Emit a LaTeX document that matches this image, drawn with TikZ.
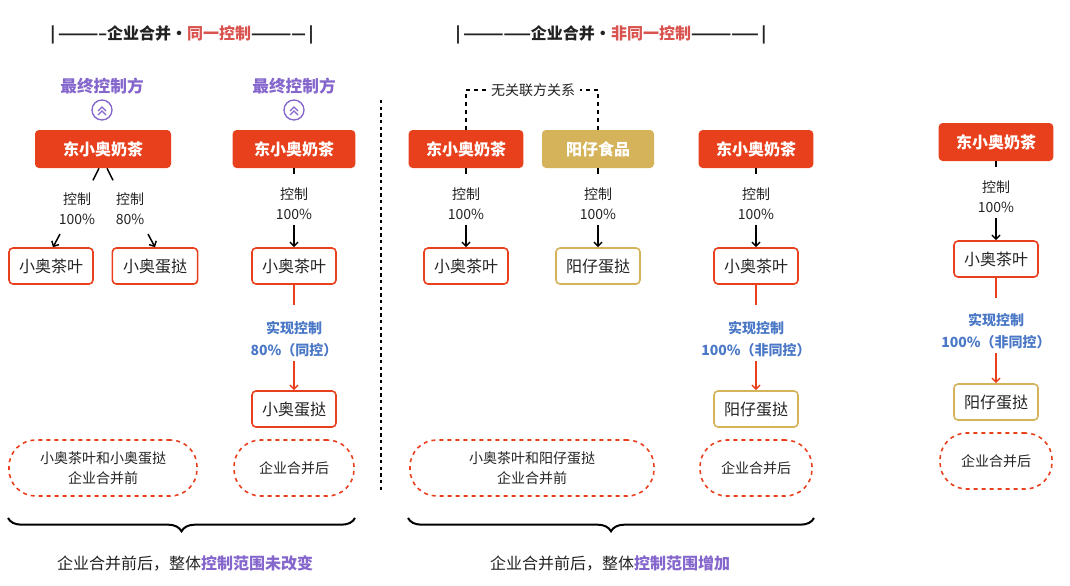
\documentclass[tikz,border=0pt]{standalone}
\usepackage{fontspec}
\setmainfont{Noto Sans CJK SC}
\usetikzlibrary{decorations.pathreplacing,arrows.meta}
\definecolor{org}{HTML}{E8401C}
\definecolor{gold}{HTML}{D4B35A}
\definecolor{pur}{HTML}{8466CC}
\definecolor{blu}{HTML}{4A78C6}
\definecolor{ttl}{HTML}{D9534F}
\definecolor{txt}{HTML}{222222}
\begin{document}
\begin{tikzpicture}[x=0.75pt,y=-0.75pt,
  top/.style={rounded corners=3pt,fill=org,text=white,font=\bfseries\fontsize{12}{14}\selectfont,minimum height=28.5pt,inner sep=0pt},
  topg/.style={top,fill=gold},
  sub/.style={rounded corners=3pt,draw=org,line width=1.2pt,text=txt,font=\fontsize{12}{14}\selectfont,minimum height=27pt,minimum width=63pt,inner sep=0pt},
  subg/.style={sub,draw=gold},
  lbl/.style={text=txt,font=\fontsize{10.5}{15}\selectfont,align=center},
  blbl/.style={text=blu,font=\bfseries\fontsize{10.5}{16}\selectfont,align=center},
  fin/.style={text=pur,font=\bfseries\fontsize{12.5}{14}\selectfont},
  ell/.style={draw=org,dashed,line width=1.2pt,rounded corners=20pt,minimum height=42pt,text=txt,font=\fontsize{10.5}{15}\selectfont,align=center},
  ttlf/.style={font=\bfseries\fontsize{12}{14}\selectfont,text=txt},
  arr/.style={-{Straight Barb[length=3pt,width=6pt]},line width=1.1pt,black},
  rarr/.style={-{Straight Barb[length=3pt,width=6pt]},line width=1.1pt,org},
  brace/.style={decorate,decoration={brace,mirror,amplitude=10pt},line width=1.5pt},
  ]
\useasboundingbox (0,0) rectangle (1070,585);
% titles
\node[ttlf] (t1) at (182,35) {|\,-----------企业合并・\textcolor{ttl}{同一控制}------------\,|};
\node[ttlf] (t2) at (611,35) {|\,---------------企业合并・\textcolor{ttl}{非同一控制}---------------\,|};
% icon macro
\newcommand{\myicon}[2]{%
 \node[circle,draw=pur,line width=1pt,minimum size=15pt,inner sep=0pt] (#1) at #2 {};
 \draw[pur,line width=1pt] ([shift={(-4,1)}]#1.center) -- ([shift={(0,-3)}]#1.center) -- ([shift={(4,1)}]#1.center);
 \draw[pur,line width=1pt] ([shift={(-4,5)}]#1.center) -- ([shift={(0,1)}]#1.center) -- ([shift={(4,5)}]#1.center);}
% ===== column A
\node[fin] (fa) at (102,86) {最终控制方};
\myicon{ia}{(102,110)}
\node[top,minimum width=102pt] (ba) at (103,149) {东小奥奶茶};
\node[sub] (ca1) at (51,266) {小奥茶叶};
\node[sub,minimum width=64pt] (ca2) at (155,266) {小奥蛋挞};
\node[lbl] (la1) at (77,209) {控制\\100\%};
\node[lbl] (la2) at (130,209) {控制\\80\%};
\draw[black,line width=1.1pt] ([xshift=-3]ba.south) -- ++(-6,12);
\draw[black,line width=1.1pt] ([xshift=3]ba.south) -- ++(6,12);
\coordinate (a1s) at (60,234); \coordinate (a2s) at (148,234);
\draw[arr] (a1s) -- (ca1.north -| 53,0);
\draw[arr] (a2s) -- (ca2.north -| 155,0);
% ===== column B
\node[fin] (fb) at (294,86) {最终控制方};
\myicon{ib}{(294,110)}
\node[top,minimum width=92pt] (bb) at (294,149) {东小奥奶茶};
\node[lbl] (lb) at (294,204) {控制\\100\%};
\node[sub] (cb1) at (294,266) {小奥茶叶};
\node[blbl] (xb) at (294,339) {实现控制\\80\%（同控）};
\node[sub] (cb2) at (294,409) {小奥蛋挞};
\draw[black,line width=1.1pt] (bb.south) -- ++(0,6);
\draw[arr] (lb.south) -- (cb1.north);
\draw[org,line width=1.1pt] (cb1.south) -- ++(0,20);
\draw[rarr] (xb.south) -- (cb2.north);
% ellipses A,B
\node[ell,minimum width=141pt] (ea) at (103,468) {小奥茶叶和小奥蛋挞\\企业合并前};
\node[ell,minimum width=90pt] (eb) at (294,468) {企业合并后};
\coordinate (brA1) at (8,518); \coordinate (brA2) at (355,518);
\draw[brace] (brA1) -- (brA2);
\node[lbl,font=\fontsize{12}{14}\selectfont] (sa) at (185,563) {企业合并前后，整体\textcolor{pur}{\bfseries 控制范围未改变}};
% divider
\coordinate (d1) at (381,100); \coordinate (d2) at (381,490);
\draw[black,line width=1.3pt,dash pattern=on 2.5pt off 2.5pt] (d1) -- (d2);
% ===== column C/D
\node[lbl] (rel) at (533,90) {无关联方关系};
\node[top,minimum width=86pt] (bc) at (466,149) {东小奥奶茶};
\node[topg,minimum width=84pt] (bd) at (598,149) {阳仔食品};
\draw[black,line width=1.3pt,dash pattern=on 3pt off 3pt] (bc.north) |- (rel.west);
\draw[black,line width=1.3pt,dash pattern=on 3pt off 3pt] (bd.north) |- (rel.east);
\node[lbl] (lc) at (466,204) {控制\\100\%};
\node[lbl] (ld) at (598,204) {控制\\100\%};
\node[sub] (cc) at (466,266) {小奥茶叶};
\node[subg] (cd) at (598,266) {阳仔蛋挞};
\draw[black,line width=1.1pt] (bc.south) -- ++(0,6);
\draw[black,line width=1.1pt] (bd.south) -- ++(0,6);
\draw[arr] (lc.south) -- (cc.north);
\draw[arr] (ld.south) -- (cd.north);
% column E
\node[top,minimum width=86pt] (be) at (756,149) {东小奥奶茶};
\node[lbl] (le) at (756,204) {控制\\100\%};
\node[sub] (ce1) at (756,266) {小奥茶叶};
\node[blbl] (xe) at (756,339) {实现控制\\100\%（非同控）};
\node[subg] (ce2) at (756,409) {阳仔蛋挞};
\draw[black,line width=1.1pt] (be.south) -- ++(0,6);
\draw[arr] (le.south) -- (ce1.north);
\draw[org,line width=1.1pt] (ce1.south) -- ++(0,20);
\draw[rarr] (xe.south) -- (ce2.north);
\node[ell,minimum width=183pt] (ec) at (532,468) {小奥茶叶和阳仔蛋挞\\企业合并前};
\node[ell,minimum width=84pt] (ee) at (756,468) {企业合并后};
\coordinate (brB1) at (408,518); \coordinate (brB2) at (814,518);
\draw[brace] (brB1) -- (brB2);
\node[lbl,font=\fontsize{12}{14}\selectfont] (sb) at (610,563) {企业合并前后，整体\textcolor{pur}{\bfseries 控制范围增加}};
% ===== column F
\node[top,minimum width=86pt] (bf) at (996,142) {东小奥奶茶};
\node[lbl] (lf) at (996,197) {控制\\100\%};
\node[sub] (cf1) at (996,259) {小奥茶叶};
\node[blbl] (xf) at (996,331) {实现控制\\100\%（非同控）};
\node[subg] (cf2) at (996,402) {阳仔蛋挞};
\draw[black,line width=1.1pt] (bf.south) -- ++(0,6);
\draw[arr] (lf.south) -- (cf1.north);
\draw[org,line width=1.1pt] (cf1.south) -- ++(0,20);
\draw[rarr] (xf.south) -- (cf2.north);
\node[ell,minimum width=84pt] (ef) at (996,461) {企业合并后};
\end{tikzpicture}
\end{document}
